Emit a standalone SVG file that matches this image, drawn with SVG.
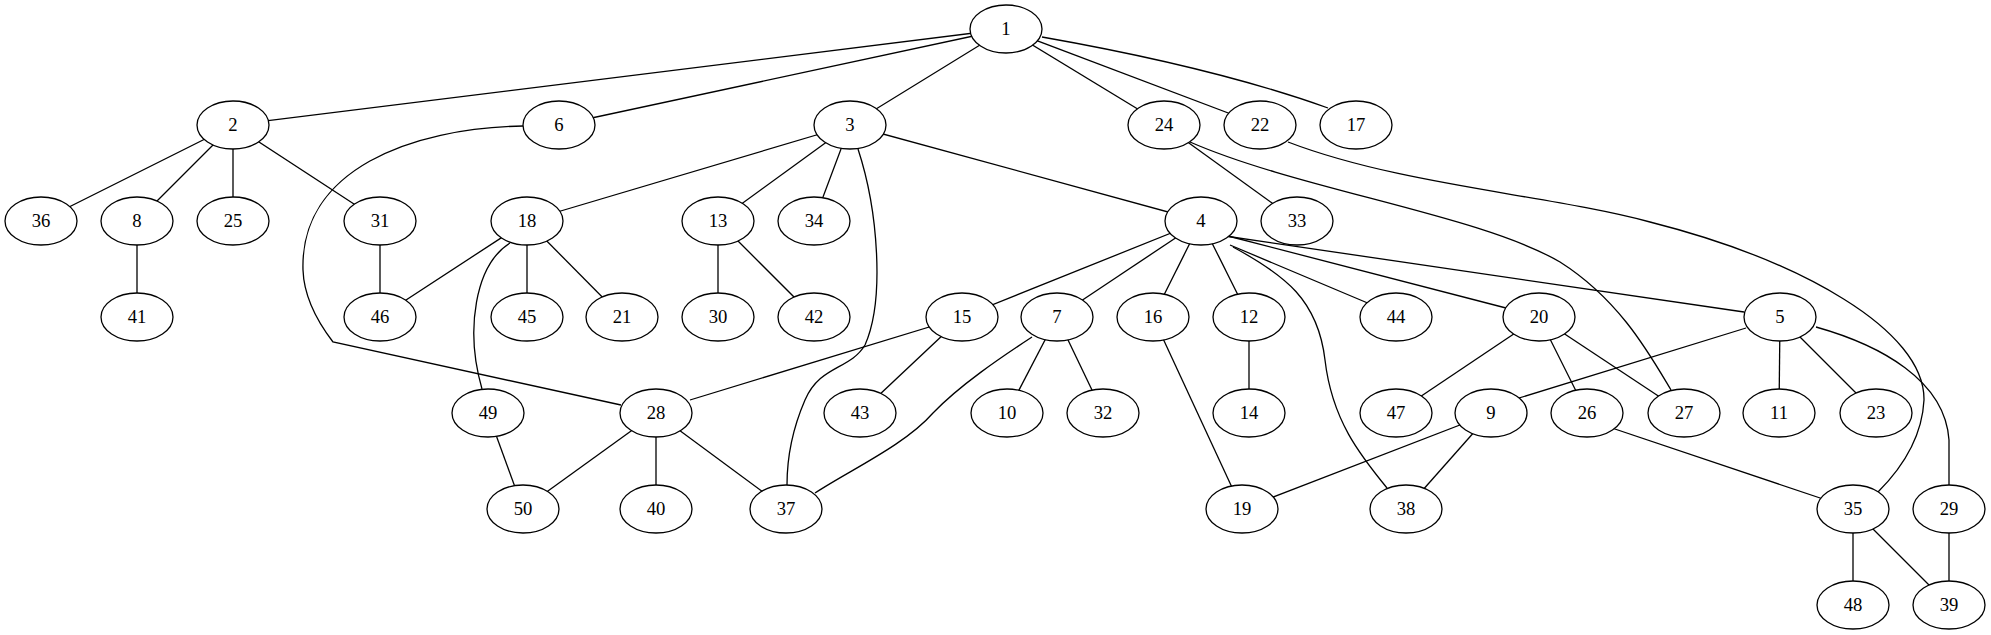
<svg xmlns="http://www.w3.org/2000/svg" width="1991" height="635" viewBox="0 0 1991 635">
<style>
.e{fill:none;stroke:#000;stroke-width:1.3}
.n ellipse{fill:#fff;stroke:#000;stroke-width:1.3}
.n text{font-family:"Liberation Serif","Times New Roman",serif;font-size:18.67px;text-anchor:middle;fill:#000}
</style>
<rect width="1991" height="635" fill="#fff"/>
<g id="connectors">
<path class="e" d="M1006,29L233,125"/>
<path class="e" d="M1006,29L559,125"/>
<path class="e" d="M1006,29L850,125"/>
<path class="e" d="M1006,29L1164,125"/>
<path class="e" d="M1006,29L1260,125"/>
<path class="e" d="M1042,37Q1215,67.5 1328,108"/>
<path class="e" d="M233,125L41,221"/>
<path class="e" d="M233,125L137,221"/>
<path class="e" d="M233,125L233,221"/>
<path class="e" d="M233,125L380,221"/>
<path class="e" d="M523,126C410,128 300,170 303,270C304,300 320,325 333,342L621,405"/>
<path class="e" d="M850,125L527,221"/>
<path class="e" d="M850,125L718,221"/>
<path class="e" d="M850,125L814,221"/>
<path class="e" d="M858,149C878,210 885,300 865,345C850,370 820,365 805,400C792,430 787,460 787,485"/>
<path class="e" d="M850,125L1201,221"/>
<path class="e" d="M1164,125L1297,221"/>
<path class="e" d="M1190,142C1300,190 1480,215 1560,262C1620,300 1650,355 1671,390"/>
<path class="e" d="M1288,142C1400,185 1550,195 1650,222C1800,260 1925,330 1924,400C1922,440 1900,470 1878,492"/>
<path class="e" d="M137,221L137,317"/>
<path class="e" d="M380,221L380,317"/>
<path class="e" d="M527,221L380,317"/>
<path class="e" d="M527,221L527,317"/>
<path class="e" d="M527,221L622,317"/>
<path class="e" d="M510,243C475,265 465,330 482,389"/>
<path class="e" d="M718,221L718,317"/>
<path class="e" d="M718,221L814,317"/>
<path class="e" d="M1201,221L962,317"/>
<path class="e" d="M1201,221L1057,317"/>
<path class="e" d="M1201,221L1153,317"/>
<path class="e" d="M1201,221L1249,317"/>
<path class="e" d="M1233,247C1285,275 1318,300 1325,360C1332,420 1360,455 1387,488"/>
<path class="e" d="M1230,245L1370,304"/>
<path class="e" d="M1228,236L1506,308"/>
<path class="e" d="M1225,236L1744,312"/>
<path class="e" d="M962,317L690,400"/>
<path class="e" d="M962,317L860,413"/>
<path class="e" d="M1057,317L1007,413"/>
<path class="e" d="M1057,317L1103,413"/>
<path class="e" d="M1032,337C1000,358 960,385 933,413C905,445 850,470 815,493"/>
<path class="e" d="M1153,317L1242,509"/>
<path class="e" d="M1249,317L1249,413"/>
<path class="e" d="M1539,317L1396,413"/>
<path class="e" d="M1539,317L1587,413"/>
<path class="e" d="M1539,317L1684,413"/>
<path class="e" d="M1746,328L1519,398"/>
<path class="e" d="M1780,317L1779,413"/>
<path class="e" d="M1780,317L1876,413"/>
<path class="e" d="M1816,327C1880,345 1945,380 1949,440L1949,485"/>
<path class="e" d="M488,413L523,509"/>
<path class="e" d="M656,413L523,509"/>
<path class="e" d="M656,413L656,509"/>
<path class="e" d="M656,413L786,509"/>
<path class="e" d="M1491,413L1242,509"/>
<path class="e" d="M1491,413L1406,509"/>
<path class="e" d="M1600,424L1835,503"/>
<path class="e" d="M1853,509L1853,605"/>
<path class="e" d="M1853,509L1949,605"/>
<path class="e" d="M1949,509L1949,605"/>
</g>
<g id="node1" class="n"><ellipse cx="1006" cy="29" rx="36" ry="24"/><text x="1006" y="35">1</text></g>
<g id="node2" class="n"><ellipse cx="233" cy="125" rx="36" ry="24"/><text x="233" y="131">2</text></g>
<g id="node6" class="n"><ellipse cx="559" cy="125" rx="36" ry="24"/><text x="559" y="131">6</text></g>
<g id="node3" class="n"><ellipse cx="850" cy="125" rx="36" ry="24"/><text x="850" y="131">3</text></g>
<g id="node24" class="n"><ellipse cx="1164" cy="125" rx="36" ry="24"/><text x="1164" y="131">24</text></g>
<g id="node22" class="n"><ellipse cx="1260" cy="125" rx="36" ry="24"/><text x="1260" y="131">22</text></g>
<g id="node17" class="n"><ellipse cx="1356" cy="125" rx="36" ry="24"/><text x="1356" y="131">17</text></g>
<g id="node36" class="n"><ellipse cx="41" cy="221" rx="36" ry="24"/><text x="41" y="227">36</text></g>
<g id="node8" class="n"><ellipse cx="137" cy="221" rx="36" ry="24"/><text x="137" y="227">8</text></g>
<g id="node25" class="n"><ellipse cx="233" cy="221" rx="36" ry="24"/><text x="233" y="227">25</text></g>
<g id="node31" class="n"><ellipse cx="380" cy="221" rx="36" ry="24"/><text x="380" y="227">31</text></g>
<g id="node18" class="n"><ellipse cx="527" cy="221" rx="36" ry="24"/><text x="527" y="227">18</text></g>
<g id="node13" class="n"><ellipse cx="718" cy="221" rx="36" ry="24"/><text x="718" y="227">13</text></g>
<g id="node34" class="n"><ellipse cx="814" cy="221" rx="36" ry="24"/><text x="814" y="227">34</text></g>
<g id="node4" class="n"><ellipse cx="1201" cy="221" rx="36" ry="24"/><text x="1201" y="227">4</text></g>
<g id="node33" class="n"><ellipse cx="1297" cy="221" rx="36" ry="24"/><text x="1297" y="227">33</text></g>
<g id="node41" class="n"><ellipse cx="137" cy="317" rx="36" ry="24"/><text x="137" y="323">41</text></g>
<g id="node46" class="n"><ellipse cx="380" cy="317" rx="36" ry="24"/><text x="380" y="323">46</text></g>
<g id="node45" class="n"><ellipse cx="527" cy="317" rx="36" ry="24"/><text x="527" y="323">45</text></g>
<g id="node21" class="n"><ellipse cx="622" cy="317" rx="36" ry="24"/><text x="622" y="323">21</text></g>
<g id="node30" class="n"><ellipse cx="718" cy="317" rx="36" ry="24"/><text x="718" y="323">30</text></g>
<g id="node42" class="n"><ellipse cx="814" cy="317" rx="36" ry="24"/><text x="814" y="323">42</text></g>
<g id="node15" class="n"><ellipse cx="962" cy="317" rx="36" ry="24"/><text x="962" y="323">15</text></g>
<g id="node7" class="n"><ellipse cx="1057" cy="317" rx="36" ry="24"/><text x="1057" y="323">7</text></g>
<g id="node16" class="n"><ellipse cx="1153" cy="317" rx="36" ry="24"/><text x="1153" y="323">16</text></g>
<g id="node12" class="n"><ellipse cx="1249" cy="317" rx="36" ry="24"/><text x="1249" y="323">12</text></g>
<g id="node44" class="n"><ellipse cx="1396" cy="317" rx="36" ry="24"/><text x="1396" y="323">44</text></g>
<g id="node20" class="n"><ellipse cx="1539" cy="317" rx="36" ry="24"/><text x="1539" y="323">20</text></g>
<g id="node5" class="n"><ellipse cx="1780" cy="317" rx="36" ry="24"/><text x="1780" y="323">5</text></g>
<g id="node49" class="n"><ellipse cx="488" cy="413" rx="36" ry="24"/><text x="488" y="419">49</text></g>
<g id="node28" class="n"><ellipse cx="656" cy="413" rx="36" ry="24"/><text x="656" y="419">28</text></g>
<g id="node43" class="n"><ellipse cx="860" cy="413" rx="36" ry="24"/><text x="860" y="419">43</text></g>
<g id="node10" class="n"><ellipse cx="1007" cy="413" rx="36" ry="24"/><text x="1007" y="419">10</text></g>
<g id="node32" class="n"><ellipse cx="1103" cy="413" rx="36" ry="24"/><text x="1103" y="419">32</text></g>
<g id="node14" class="n"><ellipse cx="1249" cy="413" rx="36" ry="24"/><text x="1249" y="419">14</text></g>
<g id="node47" class="n"><ellipse cx="1396" cy="413" rx="36" ry="24"/><text x="1396" y="419">47</text></g>
<g id="node9" class="n"><ellipse cx="1491" cy="413" rx="36" ry="24"/><text x="1491" y="419">9</text></g>
<g id="node26" class="n"><ellipse cx="1587" cy="413" rx="36" ry="24"/><text x="1587" y="419">26</text></g>
<g id="node27" class="n"><ellipse cx="1684" cy="413" rx="36" ry="24"/><text x="1684" y="419">27</text></g>
<g id="node11" class="n"><ellipse cx="1779" cy="413" rx="36" ry="24"/><text x="1779" y="419">11</text></g>
<g id="node23" class="n"><ellipse cx="1876" cy="413" rx="36" ry="24"/><text x="1876" y="419">23</text></g>
<g id="node50" class="n"><ellipse cx="523" cy="509" rx="36" ry="24"/><text x="523" y="515">50</text></g>
<g id="node40" class="n"><ellipse cx="656" cy="509" rx="36" ry="24"/><text x="656" y="515">40</text></g>
<g id="node37" class="n"><ellipse cx="786" cy="509" rx="36" ry="24"/><text x="786" y="515">37</text></g>
<g id="node19" class="n"><ellipse cx="1242" cy="509" rx="36" ry="24"/><text x="1242" y="515">19</text></g>
<g id="node38" class="n"><ellipse cx="1406" cy="509" rx="36" ry="24"/><text x="1406" y="515">38</text></g>
<g id="node35" class="n"><ellipse cx="1853" cy="509" rx="36" ry="24"/><text x="1853" y="515">35</text></g>
<g id="node29" class="n"><ellipse cx="1949" cy="509" rx="36" ry="24"/><text x="1949" y="515">29</text></g>
<g id="node48" class="n"><ellipse cx="1853" cy="605" rx="36" ry="24"/><text x="1853" y="611">48</text></g>
<g id="node39" class="n"><ellipse cx="1949" cy="605" rx="36" ry="24"/><text x="1949" y="611">39</text></g>
</svg>
